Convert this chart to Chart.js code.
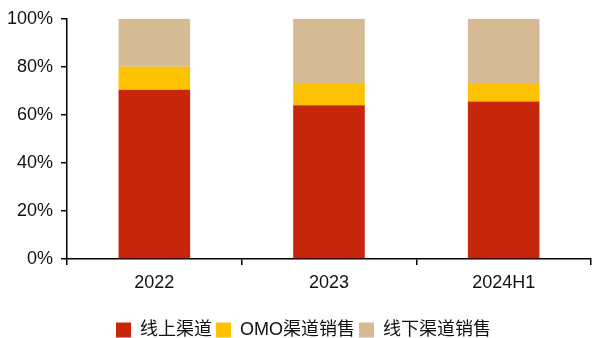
<!DOCTYPE html>
<html>
<head>
<meta charset="utf-8">
<script src="https://cdn.jsdelivr.net/npm/chart.js@4/dist/chart.umd.min.js"></script>
<style>
  html, body { margin: 0; padding: 0; background: #fff; }
  #wrap { width: 592px; height: 338px; position: relative; }
</style>
</head>
<body>
<div id="wrap"><canvas id="channelChart"></canvas></div>
<script>
// 销售渠道占比
const periods = ["2022", "2023", "2024H1"];
const onlineShare = [70.5, 64.0, 65.6];
const omoShare = [9.5, 9.3, 7.7];
const offlineShare = [20.0, 26.7, 26.7];
const seriesNames = ["线上渠道", "OMO渠道销售", "线下渠道销售"];
const yTicks = [0, 20, 40, 60, 80, 100];

const FONT = "'Liberation Sans', 'Noto Sans CJK SC', sans-serif";
Chart.defaults.font.family = FONT;
Chart.defaults.color = "#111";

// nudge the legend a little to the right
const legendShift = {
  id: "legendShift",
  afterLayout(chart) {
    chart.legend.left += 8;
    chart.legend.right += 8;
  }
};

new Chart(document.getElementById("channelChart"), {
  type: "bar",
  data: {
    labels: periods,
    datasets: [
      { label: seriesNames[0], data: onlineShare, backgroundColor: "#C8260A" },
      { label: seriesNames[1], data: omoShare, backgroundColor: "#FEC200" },
      { label: seriesNames[2], data: offlineShare, backgroundColor: "#D6BA94" }
    ]
  },
  plugins: [legendShift],
  options: {
    responsive: true,
    maintainAspectRatio: false,
    animation: false,
    layout: { padding: { top: 17, right: 1, left: 0, bottom: -11 } },
    datasets: { bar: { categoryPercentage: 1, barPercentage: 0.41 } },
    plugins: {
      tooltip: { enabled: false },
      legend: {
        position: "bottom",
        labels: {
          boxWidth: 15,
          boxHeight: 15,
          padding: 4,
          color: "#111",
          font: { size: 18 }
        }
      }
    },
    scales: {
      x: {
        stacked: true,
        afterFit: (s) => { s.height = 58; },
        border: { color: "#000", width: 1.5 },
        grid: { offset: true, drawOnChartArea: false, drawTicks: true, tickLength: 6, color: "#000", lineWidth: 1.5 },
        ticks: { padding: 7, font: { size: 18 }, color: "#111" }
      },
      y: {
        stacked: true,
        min: 0,
        max: 100,
        afterBuildTicks: (s) => { s.ticks = yTicks.map(v => ({ value: v })); },
        afterFit: (s) => { s.width = 67; },
        border: { color: "#000", width: 1.5 },
        grid: { drawOnChartArea: false, drawTicks: true, tickLength: 6, color: "#000", lineWidth: 1.5 },
        ticks: { padding: 8, font: { size: 18 }, color: "#111", callback: (v) => v + "%" }
      }
    }
  }
});
</script>
</body>
</html>
